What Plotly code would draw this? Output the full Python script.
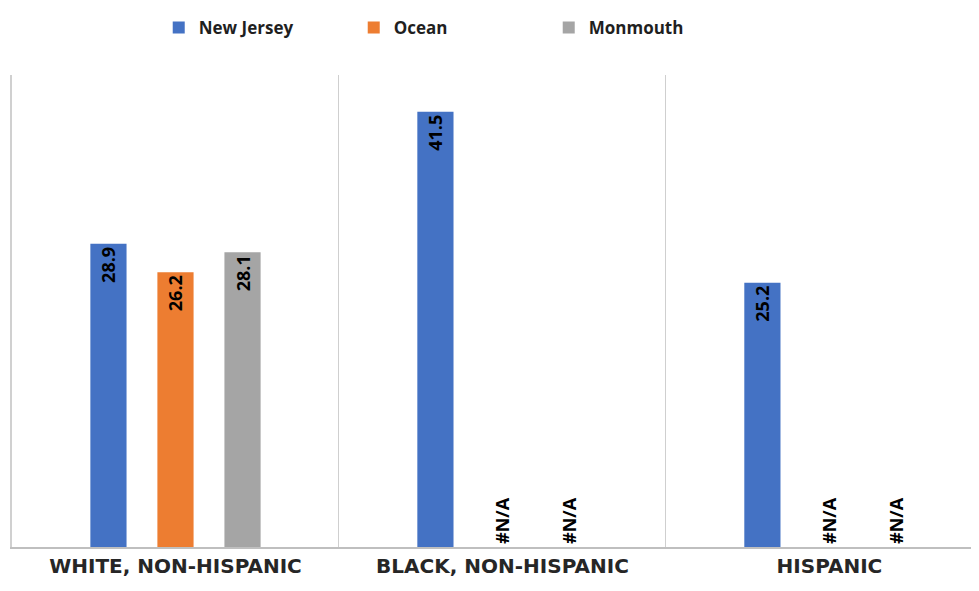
import plotly.graph_objects as go

# ==========================================================
# Data
# ==========================================================
categories = ["WHITE, NON-HISPANIC", "BLACK, NON-HISPANIC", "HISPANIC"]
series_names = ["New Jersey", "Ocean", "Monmouth"]
new_jersey = [28.9, 41.5, 25.2]
ocean = [26.2, None, None]
monmouth = [28.1, None, None]
colors = ["#4472C4", "#ED7D31", "#A5A5A5"]

FONT = "Open Sans, Noto Sans, sans-serif"
LABEL_FONT = dict(family=FONT, size=18, color="black", weight="bold")

fig = go.Figure()

for name, values, color in zip(series_names, [new_jersey, ocean, monmouth], colors):
    ys = [v if v is not None else 0 for v in values]
    labels = [f"{v}" if v is not None else "#N/A" for v in values]
    positions = ["inside" if v is not None else "outside" for v in values]
    fig.add_trace(go.Bar(
        x=categories,
        y=ys,
        name=name,
        marker_color=color,
        marker_line_width=0,
        text=labels,
        textposition=positions,
        textangle=-90,
        insidetextanchor="end",
        constraintext="none",
        cliponaxis=False,
        textfont=LABEL_FONT,
        insidetextfont=LABEL_FONT,
        outsidetextfont=LABEL_FONT,
    ))

# page body has an 8px margin, so the figure is sized to avoid scrollbars
fig.update_layout(
    width=963,
    height=575,
    paper_bgcolor="white",
    plot_bgcolor="white",
    barmode="group",
    bargap=0.385,
    bargroupgap=0.46,
    margin=dict(l=4, r=0, t=67, b=36, autoexpand=False),
    font=dict(family=FONT, color="#1f1f1f"),
    legend=dict(
        orientation="h",
        x=0.153, xanchor="left",
        yref="paper",
        y=1.138, yanchor="top",
        entrywidth=150,
        font=dict(family=FONT, size=17, color="#1f1f1f", weight="bold"),
        itemwidth=30,
        traceorder="normal",
    ),
    showlegend=True,
)

fig.update_xaxes(
    range=[-0.5, 2.433],
    tickson="boundaries",
    showgrid=True,
    gridcolor="#cfcfcf",
    gridwidth=1,
    showline=True,
    linecolor="#bfbfbf",
    linewidth=2,
    ticks="",
    automargin=False,
    tickfont=dict(family="DejaVu Sans, sans-serif", size=20, color="#262626", weight="bold"),
)

fig.update_yaxes(
    range=[0, 45],
    showgrid=False,
    showticklabels=False,
    zeroline=False,
    showline=True,
    linecolor="#d0d0d0",
    linewidth=2,
    ticks="",
    automargin=False,
)

fig.write_html("out.html")
